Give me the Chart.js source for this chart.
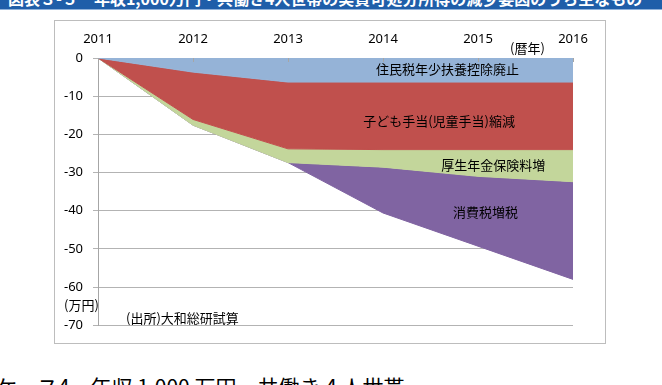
<!DOCTYPE html>
<html>
<head>
<meta charset="utf-8">
<script src="https://cdn.jsdelivr.net/npm/chart.js@4/dist/chart.umd.min.js"></script>
<style>
  html, body { margin: 0; padding: 0; background: #fff; }
  body { width: 662px; height: 385px; overflow: hidden; position: relative; font-family: "Noto Sans CJK JP", "Noto Sans", sans-serif; }
  #banner { position: absolute; left: 0; top: 0; width: 662px; height: 9px; background: #1f5ea9; overflow: hidden; border-bottom: 1px solid #8fb1da; }
  #banner span { position: absolute; left: 8px; top: -14px; color: #fff; font-size: 16px; font-weight: bold; white-space: nowrap; }
  #box { position: absolute; left: 54px; top: 20px; width: 552px; height: 324px; border: 1px solid #bdbdbd; box-sizing: border-box; }
  #c { position: absolute; left: 0; top: 0; }
  .note { position: absolute; font-size: 13px; color: #000; white-space: nowrap; line-height: 1; }
  #caption { position: absolute; left: -4px; top: 376px; font-size: 21px; color: #000; white-space: nowrap; line-height: 1; }
</style>
</head>
<body>
<div id="banner"><span>図表３-５　年収1,000万円・共働き4人世帯の実質可処分所得の減少要因のうち主なもの</span></div>
<div id="box"><canvas id="c" width="550" height="322"></canvas></div>
<div class="note" style="left:510px; top:41px;">(暦年)</div>
<div class="note" style="left:64px; top:298px;">(万円)</div>
<div class="note" style="left:126px; top:311px;">(出所)大和総研試算</div>
<div id="caption">ケース4　年収 1,000 万円　共働き 4 人世帯</div>
<script>
// ---- data ----
const years = ['2011', '2012', '2013', '2014', '2015', '2016'];
const seriesNames = ['住民税年少扶養控除廃止', '子ども手当(児童手当)縮減', '厚生年金保険料増', '消費税増税'];
const juminzei = [0, -3.7, -6.3, -6.3, -6.3, -6.3];
const kodomoTeate = [0, -12.4, -17.5, -17.7, -17.7, -17.7];
const kouseiNenkin = [0, -1.5, -3.6, -4.6, -7.0, -8.4];
const shohizei = [0, 0, 0, -12.0, -18.3, -25.6];
const yTicks = [0, -10, -20, -30, -40, -50, -60, -70];
// label anchors in data space (category index, value)
const labelAnchors = [
  { x: 3.68, y: -2.9 },
  { x: 3.59, y: -16.4 },
  { x: 4.16, y: -28.1 },
  { x: 4.08, y: -40.4 }
];

const colors = ['#95b3d7', '#c0504d', '#c3d69b', '#8064a2'];
const values = [juminzei, kodomoTeate, kouseiNenkin, shohizei];

const datasets = values.map((v, i) => ({
  label: seriesNames[i],
  data: v,
  backgroundColor: colors[i],
  borderColor: colors[i],
  borderWidth: 1,
  pointRadius: 0,
  tension: 0,
  fill: i === 0 ? 'origin' : '-1'
}));

const areaLabels = {
  id: 'areaLabels',
  afterDatasetsDraw(chart) {
    const ctx = chart.ctx, xs = chart.scales.x, ys = chart.scales.y, ca = chart.chartArea;
    ctx.save();
    ctx.strokeStyle = '#a6a6a6';
    ctx.lineWidth = 1;
    years.forEach((y, i) => {
      const px = Math.round(xs.getPixelForValue(i)) + 0.5;
      ctx.beginPath(); ctx.moveTo(px, ca.top); ctx.lineTo(px, ca.top + 4); ctx.stroke();
    });
    ctx.fillStyle = '#000';
    ctx.font = '13px "Noto Sans CJK JP"';
    ctx.textAlign = 'center';
    ctx.textBaseline = 'middle';
    labelAnchors.forEach((a, i) => {
      ctx.fillText(seriesNames[i], xs.getPixelForValue(a.x), ys.getPixelForValue(a.y));
    });
    ctx.restore();
  }
};

new Chart(document.getElementById('c'), {
  type: 'line',
  data: { labels: years, datasets },
  options: {
    responsive: false,
    animation: false,
    devicePixelRatio: 1,
    layout: { padding: { left: 0, right: 32, top: 0, bottom: 16 } },
    plugins: { legend: { display: false }, tooltip: { enabled: false } },
    scales: {
      x: {
        type: 'category',
        position: 'top',
        offset: false,
        grid: { display: true, drawOnChartArea: false, drawTicks: false },
        border: { display: true, color: '#a6a6a6' },
        ticks: { color: '#000', font: { family: 'Noto Sans', size: 13 }, padding: 11, maxRotation: 0 },
        afterFit(s) { s.height = 37; }
      },
      y: {
        stacked: true,
        min: -70,
        max: 0,
        afterBuildTicks(s) { s.ticks = yTicks.map(v => ({ value: v })); },
        grid: { color: '#b3b3b3', tickLength: 5, drawTicks: true },
        border: { display: true, color: '#a6a6a6' },
        ticks: { color: '#000', font: { family: 'Noto Sans', size: 13 }, padding: 10 },
        afterFit(s) { s.width = 43; }
      }
    }
  },
  plugins: [areaLabels]
});
</script>
</body>
</html>
